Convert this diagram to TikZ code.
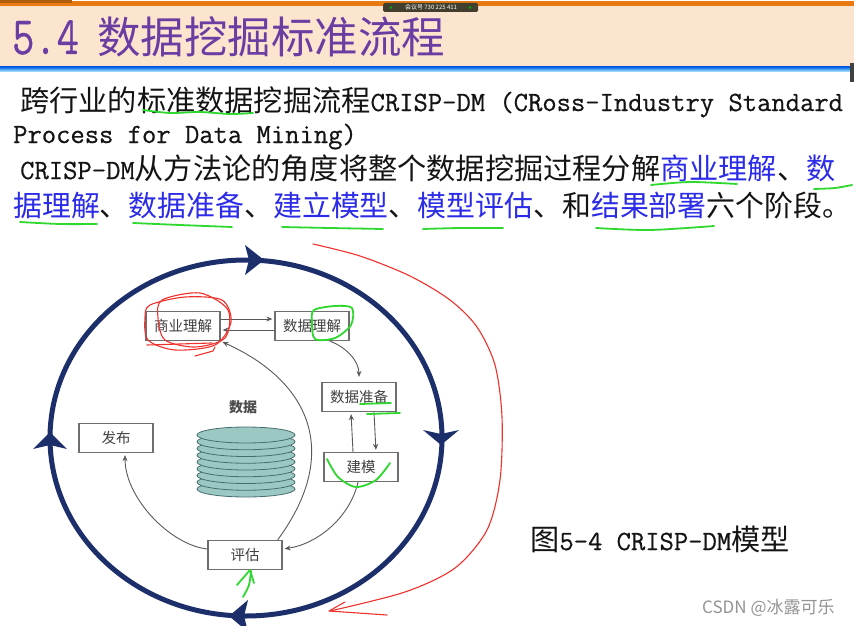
\documentclass[tikz,border=0pt]{standalone}
\usepackage{fontspec}
\usetikzlibrary{calc, positioning}
\usetikzlibrary{arrows.meta}

\newfontfamily\cjkfont{Noto Sans CJK SC}
\newfontfamily\latinmono{Latin Modern Mono}[FakeBold=0.6]
\newfontfamily\titlemono{Latin Modern Mono}[FakeStretch=0.8, FakeBold=0.6]

\definecolor{titlepurple}{HTML}{6A3DA3}
\definecolor{bandpeach}{HTML}{FCE5CF}
\definecolor{bandorange}{HTML}{E97A12}
\definecolor{linkblue}{HTML}{2B2BE8}
\definecolor{cyclenavy}{HTML}{1C2F6B}
\definecolor{boxgrey}{HTML}{6E6E6E}
\definecolor{diskteal}{HTML}{9CC8C3}
\definecolor{diskedge}{HTML}{466E6C}
\definecolor{penred}{HTML}{F0302A}
\definecolor{pengreen}{HTML}{2ED82E}

\newcommand{\zhtxt}[1]{{\cjkfont\fontsize{29.2}{35}\selectfont #1}}
\newcommand{\entxt}[1]{{\latinmono\fontsize{27.8}{35}\selectfont #1}}
\newcommand{\hl}[1]{\textcolor{linkblue}{#1}}

\begin{document}
\begin{tikzpicture}[x=1pt, y=-1pt,
  textline/.style={anchor=base west, inner sep=0pt, text=black!92},
  stage/.style={draw=boxgrey, line width=1.3pt, fill=white, minimum width=74pt,
    minimum height=29pt, inner sep=0pt, text=black!75,
    font=\cjkfont\fontsize{14.5}{15}\selectfont},
  flow/.style={draw=black!65, line width=0.9pt, shorten >=2pt,
    -{Stealth[length=6pt, width=5pt]}},
  greenpen/.style={draw=pengreen, line width=1.8pt, line cap=round, line join=round},
  redpen/.style={draw=penred, line width=1.1pt, line cap=round, line join=round}]

\useasboundingbox (0,0) rectangle (854,626);
\fill[white] (0,0) rectangle (854,626);

\fill[bandpeach] (0,6) rectangle (854,67);
\fill[bandorange] (0,1.5) rectangle (854,6);
\fill[bandorange!75!black] (0,0) rectangle (72,3);
\shade[top color=blue!55!cyan!90!black, bottom color=blue!20!cyan!25] (0,67) rectangle (854,72);
\fill[black!75] (850,63) rectangle (854,82);

\fill[black!70!olive, rounded corners=1.5pt] (383,3) rectangle (478,12);
\fill[green!70!black] (391,7.5) circle (1.4pt);
\fill[green!70!black] (470,7.5) circle (1.4pt);
\node[inner sep=0pt, text=white!80, font=\cjkfont\fontsize{6}{6}\selectfont] (meeting) at (431,7.5) {会议号 730 225 411};

\node[textline, text=titlepurple, font=\titlemono\fontsize{54}{54}\selectfont] (secnum) at (12,54) {5.4};
\node[textline, text=titlepurple, font=\cjkfont\fontsize{43.5}{44}\selectfont] (title) at (97,54) {数据挖掘标准流程};

\node[textline] (line1) at (20,111) {\zhtxt{跨行业的标准数据挖掘流程}\entxt{CRISP-DM (CRoss-Industry Standard}};
\node[textline] (line2) at (13,143) {\entxt{Process for Data Mining)}};
\node[textline] (line3) at (20,179) {\entxt{CRISP-DM}\zhtxt{从方法论的角度将整个数据挖掘过程分解\hl{商业理解}、\hl{数}}};
\node[textline, font=\cjkfont\fontsize{28.9}{35}\selectfont] (line4) at (13,216) {\hl{据理解}、\hl{数据准备}、\hl{建立模型}、\hl{模型评估}、和\hl{结果部署}六个阶段。};

\draw[cyclenavy, line width=5pt] (246,438) ellipse [x radius=196pt, y radius=178pt];
\fill[cyclenavy] (245,245) -- (264,260) -- (245,275) -- (249,260) -- cycle;
\fill[cyclenavy] (423,430) -- (441,445) -- (459,430) -- (441,434) -- cycle;
\fill[cyclenavy] (248,600) -- (229,616) -- (248,632) -- (244,616) -- cycle;
\fill[cyclenavy] (33,449) -- (50,432) -- (67,449) -- (50,445) -- cycle;

\foreach \k in {8,7,...,0} {
  \filldraw[fill=diskteal, draw=diskedge, line width=0.8pt] (246,{435+6.75*\k}) ellipse [x radius=49pt, y radius=8pt];
}
\node[font=\cjkfont\bfseries\fontsize{14}{14}\selectfont, text=black!70] (datalabel) at (243,407) {数据};

\node[stage] (biz) at (183,326) {商业理解};
\node[stage] (dataund) at (312,326) {数据理解};
\node[stage] (dataprep) at (359,397) {数据准备};
\node[stage] (model) at (361,467) {建模};
\node[stage] (eval) at (245,555) {评估};
\node[stage] (deploy) at (116,438) {发布};

\draw[flow] ([yshift=7pt]biz.east) -- ([yshift=7pt]dataund.west);
\draw[flow] ([yshift=-4pt]dataund.west) -- ([yshift=-4pt]biz.east);
\draw[flow] ([xshift=18pt]dataund.south) .. controls +(16,6) and +(0,-18) .. ([yshift=3pt]dataprep.north);
\draw[flow] ([xshift=-8pt]model.north) -- ([xshift=-8pt]dataprep.south);
\draw[flow] ([xshift=15pt]dataprep.south) -- ([xshift=15pt]model.north);
\draw[flow] ([xshift=-3pt]model.south) .. controls +(-8,35) and +(35,-5) .. ([yshift=6pt]eval.east);
\draw[flow] ([xshift=-5pt]eval.north east) .. controls +(62,-84) and +(93,42) .. (biz.south east);
\draw[flow] ([yshift=6pt]eval.west) .. controls +(-37,-4) and +(0,45) .. ([xshift=9pt]deploy.south);

\node[textline] (caption) at (530,550) {\zhtxt{图}\entxt{5-4 CRISP-DM}\zhtxt{模型}};
\node[textline, text=black!42, font=\cjkfont\fontsize{17}{17}\selectfont] (watermark) at (702,613) {CSDN @冰露可乐};

\draw[greenpen] plot[smooth] coordinates {(143,110) (170,113) (200,112) (230,114) (253,113)};
\draw[greenpen] plot[smooth] coordinates {(651,185) (690,182) (737,184)};
\draw[greenpen] plot[smooth] coordinates {(814,189) (835,188) (852,185)};
\draw[greenpen] plot[smooth] coordinates {(20,222) (60,224) (97,224)};
\draw[greenpen] plot[smooth] coordinates {(133,223) (180,225) (232,227)};
\draw[greenpen] plot[smooth] coordinates {(282,227) (330,228) (383,229)};
\draw[greenpen] plot[smooth] coordinates {(423,229) (460,228) (503,228)};
\draw[greenpen] plot[smooth] coordinates {(596,228) (650,230) (714,226)};
\draw[greenpen] plot[smooth cycle] coordinates {(314,310) (335,306) (352,308) (351,325) (335,338) (315,339) (312,322)};
\draw[greenpen] (360,404) -- (391,403);
\draw[greenpen] (367,414) -- (400,413);
\draw[greenpen] plot[smooth] coordinates {(327,459) (338,477) (356,487) (376,480) (390,463)};
\draw[greenpen] plot[smooth] coordinates {(243,597) (249,585) (251,571)};
\draw[greenpen] (237,585) -- (250,570) -- (254,583);

\draw[redpen] plot[smooth cycle] coordinates {(150,305) (185,297) (222,300) (231,322) (215,345) (175,350) (148,340) (145,318)};
\draw[redpen] plot[smooth cycle] coordinates {(162,300) (200,293) (228,310) (225,338) (195,347) (165,340) (158,318)};
\draw[redpen] (147,345) -- (212,343);
\draw[redpen] (195,356) -- (213,351) -- (215,347);
\draw[redpen] plot[smooth] coordinates {(313,244) (360,256) (410,276) (450,300) (477,327) (495,365) (502,417) (500,480) (487,530) (455,568) (405,592) (330,611)};
\draw[redpen] (345,602) -- (329,611) -- (387,615);
\end{tikzpicture}
\end{document}
